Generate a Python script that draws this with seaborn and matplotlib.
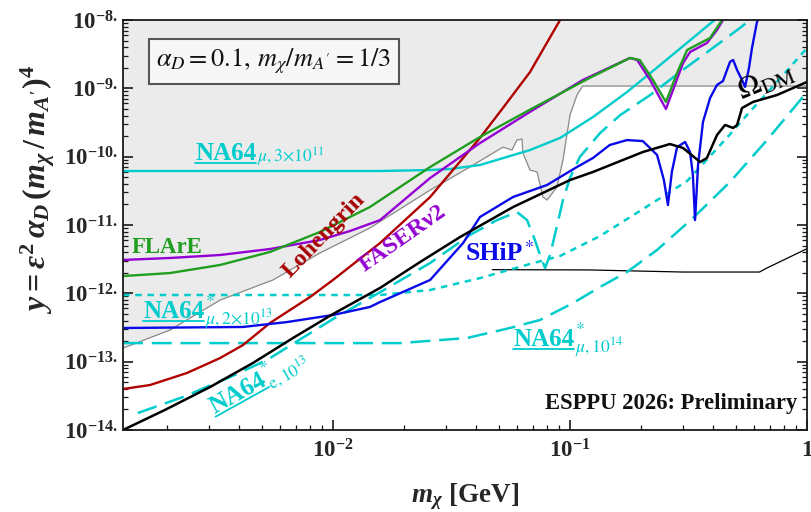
import numpy as np
import matplotlib
matplotlib.use("Agg")
import matplotlib.pyplot as plt
import seaborn as sns
from matplotlib.transforms import Affine2D, IdentityTransform
from matplotlib.lines import Line2D
from matplotlib.ticker import LogLocator, FuncFormatter, NullFormatter, FixedLocator

# ---------------- data: m_chi [GeV] vs y ----------------
# thermal relic target
relic_x = [1.30e-3, 1.95e-3, 3.03e-3, 4.59e-3, 6.78e-3, 1.0e-2, 1.58e-2, 2.33e-2, 3.44e-2, 5.75e-2,
           0.100, 0.125, 0.203, 0.264, 0.300, 0.354, 0.378, 0.417, 0.451, 0.488, 0.507, 0.532,
           0.591, 0.747, 1.0]
relic_y = [1.0e-14, 1.96e-14, 4.26e-14, 9.55e-14, 2.22e-13, 4.98e-13, 1.20e-12, 2.87e-12, 6.68e-12,
           1.83e-11, 4.55e-11, 5.97e-11, 1.17e-10, 1.53e-10, 1.34e-10, 8.35e-11, 9.56e-11, 2.07e-10,
           2.91e-10, 2.63e-10, 2.91e-10, 5.15e-10, 6.31e-10, 7.98e-10, 1.24e-9]

# thin floor line
floor_x = [0.047, 0.12, 0.30, 0.63, 0.678, 1.0]
floor_y = [2.22e-12, 2.20e-12, 2.05e-12, 2.05e-12, 2.35e-12, 4.5e-12]

# existing bounds (shaded above)
bound_x = [1.30e-3, 2.05e-3, 3.34e-3, 5.58e-3, 8.8e-3, 1.43e-2, 2.57e-2, 3.78e-2, 5.21e-2, 5.69e-2,
           5.97e-2, 6.27e-2, 6.33e-2, 6.78e-2, 7.26e-2, 7.69e-2, 8.0e-2, 8.81e-2, 9.34e-2, 0.100,
           0.107, 0.113, 1.0]
bound_y = [1.58e-13, 2.90e-13, 7.98e-13, 1.57e-12, 3.89e-12, 9.04e-12, 3.25e-11, 7.06e-11, 1.38e-10,
           1.25e-10, 1.75e-10, 1.81e-10, 1.13e-10, 6.38e-11, 5.97e-11, 2.57e-11, 2.32e-11, 3.60e-11,
           8.93e-11, 4.07e-10, 7.98e-10, 1.08e-9, 1.08e-9]

# FASERnu2
faser_x = [1.30e-3, 2.05e-3, 3.34e-3, 5.42e-3, 8.8e-3, 1.18e-2, 1.58e-2, 2.57e-2, 4.17e-2, 6.98e-2,
           0.113, 0.179, 0.192, 0.218, 0.254, 0.300, 0.321, 0.378, 0.417, 0.442, 0.46]
faser_y = [3.08e-12, 3.29e-12, 3.64e-12, 4.45e-12, 6.03e-12, 8.17e-12, 1.18e-11, 4.88e-11, 1.58e-10,
           4.82e-10, 1.32e-9, 2.78e-9, 2.60e-9, 1.32e-9, 4.98e-10, 2.35e-9, 3.40e-9, 4.6e-9, 7.14e-9,
           1.0e-8, 1.3e-8]

# FLArE
flare_x = [1.30e-3, 2.05e-3, 3.34e-3, 5.42e-3, 8.8e-3, 1.43e-2, 2.57e-2, 4.17e-2, 6.98e-2, 0.121,
           0.179, 0.197, 0.224, 0.254, 0.283, 0.312, 0.390, 0.438, 0.46]
flare_y = [1.79e-12, 1.98e-12, 2.60e-12, 4.03e-12, 7.89e-12, 1.83e-11, 7.06e-11, 1.94e-10, 5.15e-10,
           1.42e-9, 2.78e-9, 2.60e-9, 1.32e-9, 6.31e-10, 1.68e-9, 3.64e-9, 5.46e-9, 1.0e-8, 1.3e-8]

# Lohengrin
loh_x = [1.30e-3, 1.69e-3, 2.42e-3, 3.34e-3, 4.17e-3, 5.42e-3, 8.0e-3, 1.0e-2, 1.58e-2, 2.57e-2,
         4.17e-2, 5.21e-2, 6.78e-2, 9.08e-2, 9.52e-2]
loh_y = [3.98e-14, 4.55e-14, 6.83e-14, 1.13e-13, 1.75e-13, 3.68e-13, 8.83e-13, 1.57e-12, 5.45e-12,
         2.57e-11, 1.88e-10, 5.15e-10, 1.73e-9, 1.0e-8, 1.3e-8]

# NA64mu, 3x10^11
na64mu_x = [1.30e-3, 1.58e-2, 2.57e-2, 3.12e-2, 4.17e-2, 6.78e-2, 9.08e-2, 0.125, 0.174, 0.240,
            0.330, 0.417, 0.44]
na64mu_y = [6.17e-11, 6.17e-11, 6.38e-11, 6.6e-11, 7.55e-11, 1.25e-10, 1.88e-10, 3.80e-10, 8.83e-10,
            2.19e-9, 5.46e-9, 1.07e-8, 1.3e-8]

# SHiP*
ship_x = [1.30e-3, 4.17e-3, 6.40e-3, 1.0e-2, 1.43e-2, 1.58e-2, 2.57e-2, 3.54e-2, 4.17e-2, 5.75e-2,
          8.0e-2, 0.107, 0.125, 0.147, 0.174, 0.203, 0.233, 0.249, 0.259, 0.269, 0.283, 0.306,
          0.321, 0.330, 0.337, 0.347, 0.364, 0.390, 0.417, 0.442, 0.473, 0.488, 0.507, 0.532,
          0.548, 0.569, 0.586, 0.615, 0.64]
ship_y = [3.11e-13, 3.22e-13, 3.80e-13, 4.82e-13, 6.31e-13, 7.46e-13, 1.57e-12, 5.45e-12, 1.31e-11,
          2.57e-11, 3.85e-11, 7.06e-11, 9.56e-11, 1.48e-10, 1.75e-10, 1.69e-10, 1.06e-10, 4.55e-11,
          1.96e-11, 5.97e-11, 1.38e-10, 1.64e-10, 1.17e-10, 5.40e-11, 1.18e-11, 7.55e-11, 3.22e-10,
          7.22e-10, 1.12e-9, 1.28e-9, 2.43e-9, 2.60e-9, 1.85e-9, 1.32e-9, 1.05e-9, 1.98e-9, 3.89e-9,
          9.35e-9, 1.3e-8]

# NA64*mu, 2x10^13
na64mu2_x = [1.30e-3, 1.58e-2, 2.57e-2, 4.17e-2, 6.78e-2, 9.08e-2, 0.134, 0.197, 0.312, 0.459,
             0.558, 0.747, 1.0]
na64mu2_y = [9.45e-13, 9.45e-13, 1.12e-12, 1.67e-12, 2.69e-12, 3.52e-12, 6.91e-12, 1.60e-11,
             4.40e-11, 1.88e-10, 4.07e-10, 1.24e-9, 3.89e-9]

# NA64*mu, 10^14
na64mu14_x = [1.30e-3, 1.92e-2, 3.68e-2, 5.58e-2, 7.47e-2, 0.103, 0.134, 0.174, 0.233, 0.330,
              0.473, 0.678, 1.0]
na64mu14_y = [1.87e-13, 1.87e-13, 2.22e-13, 3.11e-13, 4.07e-13, 7.21e-13, 1.24e-12, 2.05e-12,
              4.31e-12, 1.26e-11, 4.26e-11, 1.75e-10, 8.83e-10]

# NA64*e, 10^13
na64e_x = [1.50e-3, 2.33e-3, 3.68e-3, 5.27e-3, 1.0e-2, 1.58e-2, 2.57e-2, 3.78e-2, 4.92e-2, 5.97e-2,
           6.59e-2, 7.11e-2, 7.55e-2, 7.85e-2, 8.24e-2, 8.73e-2, 9.34e-2, 0.100, 0.110, 0.134,
           0.163, 0.218, 0.291, 0.390, 0.521, 0.574, 0.60]
na64e_y = [1.77e-14, 3.04e-14, 5.96e-14, 1.06e-13, 4.21e-13, 1.04e-12, 2.78e-12, 7.14e-12, 1.18e-11,
           1.55e-11, 1.18e-11, 6.03e-12, 3.29e-12, 2.35e-12, 3.64e-12, 8.45e-12, 2.32e-11, 4.88e-11,
           9.89e-11, 2.22e-10, 4.07e-10, 7.98e-10, 1.73e-9, 3.64e-9, 7.63e-9, 1.0e-8, 1.3e-8]

# ---------------- style ----------------
CYAN = "#00cccc"
GREEN = "#1f9e1f"
PURPLE = "#9400d3"
RED = "#b00000"
BLUE = "#0a0ae8"
SERIF = ["Liberation Serif", "DejaVu Serif"]

sns.set_theme(style="ticks")
plt.rcParams.update({
    "font.family": SERIF,
    "mathtext.fontset": "custom",
    "mathtext.rm": "Liberation Serif:bold",
    "mathtext.it": "Liberation Serif:italic:bold",
    "mathtext.bf": "Liberation Serif:bold",
    "mathtext.fallback": "stix",
    "axes.linewidth": 1.3,
    "axes.edgecolor": "#1a1a1a",
})

fig = plt.figure(figsize=(8.12, 5.12), dpi=100)
ax = fig.add_axes([123 / 812, 82 / 512, 684 / 812, 410 / 512])
ax.set_xscale("log")
ax.set_yscale("log")
ax.set_xlim(1.3e-3, 1.0)
ax.set_ylim(1e-14, 1e-8)

ax.fill_between(bound_x, bound_y, 1e-7, color="#ebebeb", lw=0, zorder=0)

LONG = (8, 3.5)
SHORT = (2.6, 2.3)
curves = [
    (bound_x, bound_y, "#8a8a8a", 0.9, None),
    (floor_x, floor_y, "black", 0.9, None),
    (na64mu14_x, na64mu14_y, CYAN, 1.8, LONG),
    (na64e_x, na64e_y, CYAN, 1.8, LONG),
    (na64mu2_x, na64mu2_y, CYAN, 1.8, SHORT),
    (na64mu_x, na64mu_y, CYAN, 1.7, None),
    (loh_x, loh_y, RED, 1.7, None),
    (faser_x, faser_y, PURPLE, 1.7, None),
    (flare_x, flare_y, GREEN, 1.7, None),
    (ship_x, ship_y, BLUE, 1.7, None),
    (relic_x, relic_y, "black", 1.8, None),
]
for xs, ys, c, lw, dash in curves:
    sns.lineplot(x=xs, y=ys, ax=ax, color=c, lw=lw, sort=False, estimator=None)
    line = ax.lines[-1]
    if dash is not None:
        line.set_dashes(dash)
        line.set_dash_capstyle("butt")

ax.set_xlim(1.3e-3, 1.0)
ax.set_ylim(1e-14, 1e-8)

# ---------------- axes ticks ----------------
def xfmt(v, pos):
    e = int(round(np.log10(v)))
    return r"$1$" if e == 0 else r"$10^{%d}$" % e

def yfmt(v, pos):
    return r"$10^{%d.}$" % int(round(np.log10(v)))

ax.xaxis.set_major_locator(FixedLocator([1e-2, 1e-1, 1.0]))
ax.xaxis.set_major_formatter(FuncFormatter(xfmt))
ax.xaxis.set_minor_locator(LogLocator(10, subs=np.arange(2, 10), numticks=50))
ax.xaxis.set_minor_formatter(NullFormatter())
ax.yaxis.set_major_locator(FixedLocator([10.0 ** k for k in range(-14, -7)]))
ax.yaxis.set_major_formatter(FuncFormatter(yfmt))
ax.yaxis.set_minor_locator(LogLocator(10, subs=np.arange(2, 10), numticks=50))
ax.yaxis.set_minor_formatter(NullFormatter())
ax.tick_params(which="both", direction="in", top=False, right=True, bottom=True, left=True,
               color="#1a1a1a")
ax.tick_params(which="major", length=7.5, width=1.2, labelsize=16.5, pad=4)
ax.tick_params(which="minor", length=3.8, width=0.9)
ax.tick_params(axis="x", which="major", pad=7)

fig.text(465 / 812, 10 / 512, r"$m_\chi\ [\mathrm{GeV}]$", ha="center", va="baseline",
         fontsize=19.5)
fig.text(38 / 812, 1 - 189 / 512, r"$y = \epsilon^{2}\,\alpha_{D}\,(m_{\chi}\,/\,m_{A^\prime})^{4}$",
         rotation=90, ha="center", va="center", fontsize=23)

# ---------------- labels ----------------
def tag(x, y, main, color, size, angle=0.0, script=None, underline=True):
    r = fig.canvas.get_renderer()
    x0, y0 = ax.transData.transform((x, y))
    frame = Affine2D().rotate_deg(angle).translate(x0, y0)

    def place(dx, dy, s, **kw):
        px, py = frame.transform((dx, dy))
        return fig.text(px, py, s, transform=IdentityTransform(), rotation=angle,
                        rotation_mode="anchor", ha="left", va="baseline", color=color, **kw)

    probe = fig.text(0, 0, main, fontsize=size, fontweight="bold", family=SERIF)
    w = probe.get_window_extent(r).width
    probe.remove()
    place(0, 0, main, fontsize=size, fontweight="bold", family=SERIF)
    if underline:
        p = frame.transform([(0, -3), (w, -3)])
        fig.add_artist(Line2D(p[:, 0], p[:, 1], transform=IdentityTransform(), color=color, lw=1.3))
    if script:
        place(w + 1, 0, script, fontsize=size, family=SERIF, math_fontfamily="stix")

tag(2.62e-3, 8.93e-11, "NA64", CYAN, 18, script=r"$_{\mu,3{\times}10^{11}}$")
tag(1.58e-3, 4.35e-13, "NA64", CYAN, 18, script=r"$^{*}_{\mu,2{\times}10^{13}}$")
tag(3.15e-3, 1.71e-14, "NA64", CYAN, 18, angle=29, script=r"$^{*}_{\mathrm{e},10^{13}}$")
tag(5.75e-2, 1.69e-13, "NA64", CYAN, 18, script=r"$^{*}_{\mu,10^{14}}$")
tag(3.61e-2, 3.08e-12, "SHiP", BLUE, 18.5, script=r"$^{*}$", underline=False)

ax.text(1.42e-3, 3.89e-12, "FLArE", color=GREEN, fontsize=16.5, fontweight="bold",
        ha="left", va="baseline")
ax.text(6.59e-3, 1.62e-12, "Lohengrin", color="#a80000", fontsize=17.5, fontweight="bold",
        rotation=46, rotation_mode="anchor", ha="left", va="baseline")
ax.text(1.365e-2, 2.05e-12, "FASERν2", color=PURPLE, fontsize=17.5, fontweight="bold",
        rotation=35, rotation_mode="anchor", ha="left", va="baseline")
ax.text(0.53, 6.6e-10, r"$\Omega_{\rm DM}$", color="black", fontsize=22, math_fontfamily="stix",
        rotation=22, rotation_mode="anchor", ha="left", va="baseline")

ax.text(0.9854, 0.0512, "ESPPU 2026: Preliminary", transform=ax.transAxes, ha="right",
        va="baseline", fontsize=16.3, fontweight="bold", color="#111111")
ax.text(0.2208, 0.8988, r"$\alpha_D = 0.1,\, m_\chi/m_{A^\prime} = 1/3$", transform=ax.transAxes,
        ha="center", va="center", fontsize=19, math_fontfamily="stix", color="#111111",
        bbox=dict(boxstyle="square,pad=0.28", fc="#f7f7f7", ec="#555555", lw=1.5))

fig.savefig("out.png", dpi=100)
